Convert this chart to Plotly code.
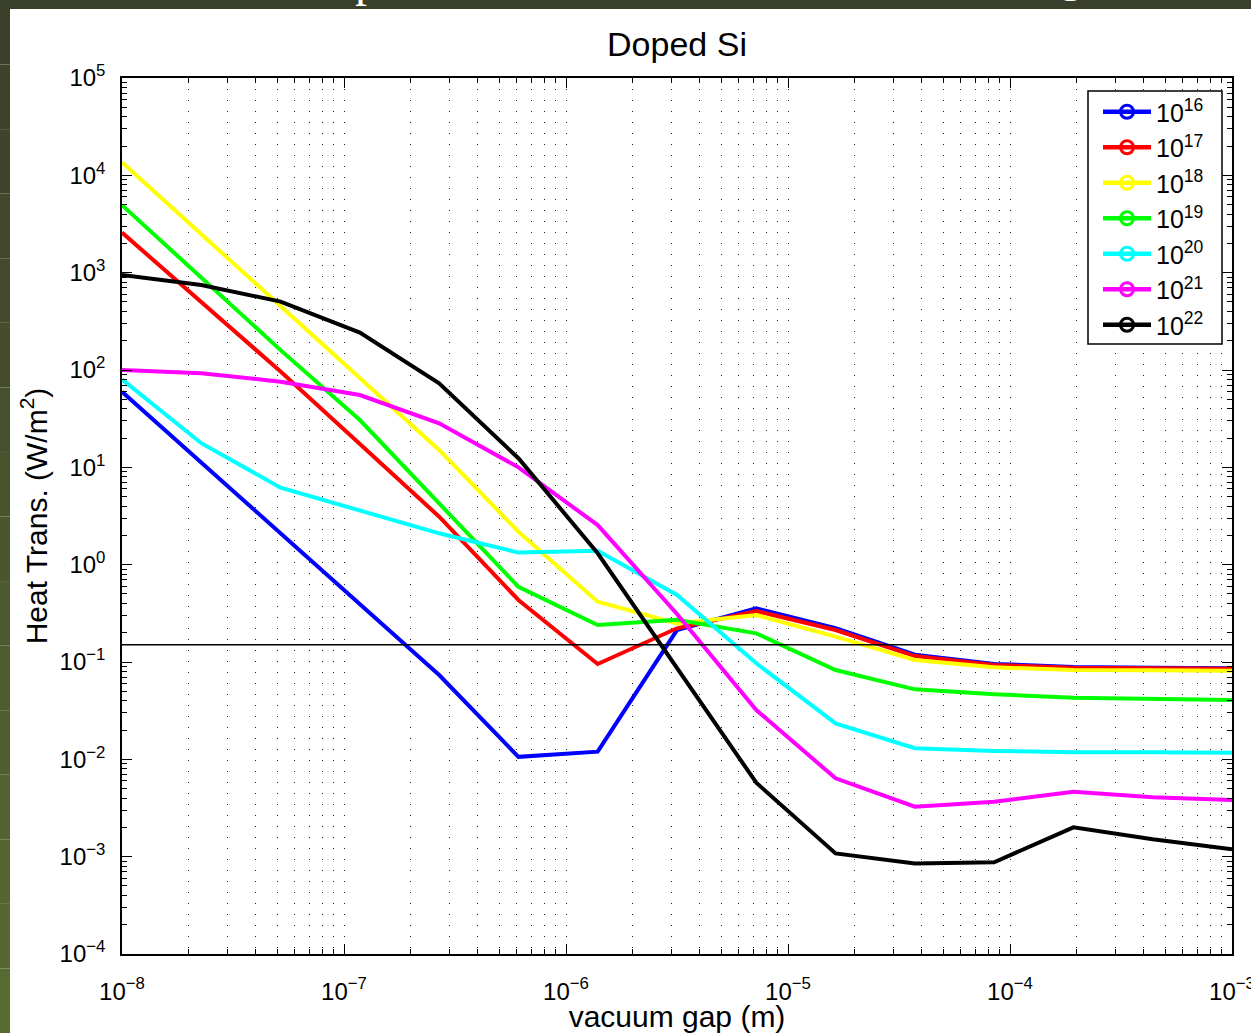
import plotly.graph_objects as go

# Vacuum gap samples (m): 15 log-spaced gaps from 10 nm to 1 mm
gap_m = [1.0e-8, 2.276e-8, 5.18e-8, 1.179e-7, 2.683e-7, 6.105e-7, 1.389e-6,
         3.162e-6, 7.197e-6, 1.638e-5, 3.728e-5, 8.483e-5, 1.931e-4, 4.394e-4, 1.0e-3]

# Heat transfer (W/m^2) per doping concentration (cm^-3)
q_1e16 = [59.8, 11.2, 2.11, 0.394, 0.0735, 0.0106, 0.0120, 0.213, 0.356, 0.222,
          0.119, 0.0955, 0.0891, 0.0871, 0.0861]
q_1e17 = [2580, 497, 96.4, 17.4, 3.11, 0.434, 0.0955, 0.222, 0.334, 0.213,
          0.115, 0.0931, 0.0873, 0.0861, 0.0853]
q_1e18 = [13600, 2490, 455, 83.2, 15.1, 2.18, 0.416, 0.249, 0.304, 0.182,
          0.105, 0.0881, 0.0828, 0.0822, 0.0815]
q_1e19 = [4940, 889, 160, 30.6, 4.27, 0.593, 0.240, 0.272, 0.197, 0.0828,
          0.0524, 0.0466, 0.0430, 0.0414, 0.0406]
q_1e20 = [80.2, 17.7, 6.18, 3.64, 2.10, 1.33, 1.39, 0.488, 0.0970, 0.0234,
          0.0130, 0.0122, 0.0118, 0.0118, 0.0117]
q_1e21 = [100, 92.5, 75.9, 55.3, 28.3, 10.0, 2.55, 0.311, 0.0321, 0.00638,
          0.00326, 0.00367, 0.00465, 0.00407, 0.00382]
q_1e22 = [946, 746, 504, 242, 72.9, 12.4, 1.31, 0.0871, 0.00575, 0.00108,
          0.000853, 0.000875, 0.00200, 0.00151, 0.00119]

series_values = [q_1e16, q_1e17, q_1e18, q_1e19, q_1e20, q_1e21, q_1e22]
series_names = ["10<sup>16</sup>", "10<sup>17</sup>", "10<sup>18</sup>", "10<sup>19</sup>",
                "10<sup>20</sup>", "10<sup>21</sup>", "10<sup>22</sup>"]
series_colors = ["#0000ff", "#ff0000", "#ffff00", "#00ff00", "#00ffff", "#ff00ff", "#000000"]

# Reference level drawn across the whole gap range
reference_level = 0.15

# Decade tick labels
x_exponents = [-8, -7, -6, -5, -4, -3]
y_exponents = [-4, -3, -2, -1, 0, 1, 2, 3, 4, 5]

FONT = "Liberation Sans, Arial, sans-serif"
W, H = 1251, 1033
ML, MR, MT, MB = 122, 19, 78, 79
PW, PH = W - ML - MR, H - MT - MB


def px_x(px):
    return (px - ML) / PW


def px_y(py):
    return (H - MB - py) / PH


def exp_label(e):
    return "10<sup>" + str(e).replace("-", "\u2212") + "</sup>"


x_minor = [d * 10.0 ** e for e in x_exponents[:-1] for d in range(2, 10)]
y_minor = [d * 10.0 ** e for e in y_exponents[:-1] for d in range(2, 10)]

fig = go.Figure()

# Curves (no markers on the plot itself)
for vals, name, col in zip(series_values, series_names, series_colors):
    fig.add_trace(go.Scatter(x=gap_m, y=vals, mode="lines", name=name,
                             line=dict(color=col, width=4), showlegend=False))

# Legend entries with line + open circle
for name, col in zip(series_names, series_colors):
    fig.add_trace(go.Scatter(x=[None], y=[None], mode="lines+markers", name=name,
                             line=dict(color=col, width=4.5),
                             marker=dict(symbol="circle-open", size=13, color=col,
                                         line=dict(width=3, color=col))))

fig.add_shape(type="line", xref="paper", yref="y", x0=0, x1=1,
              y0=reference_level, y1=reference_level,
              line=dict(color="black", width=1.5), layer="above")

# Legend frame (white box with black border, sits over the grid)
fig.add_shape(type="rect", xref="paper", yref="paper",
              x0=px_x(1088), x1=px_x(1222), y0=px_y(344), y1=px_y(91),
              fillcolor="white", line=dict(color="black", width=1.5), layer="above")

# Slide background bands along the top and left edges
fig.add_shape(type="rect", xref="paper", yref="paper",
              x0=px_x(0), x1=px_x(W), y0=px_y(9), y1=px_y(0),
              fillcolor="#3a3f2b", line=dict(width=0), layer="below")
band_cols = ["#3b402a", "#3d432b", "#3f452c", "#41482c", "#434a2d", "#454d2d",
             "#47502e", "#49532e", "#4b562f", "#4d592f", "#4f5c2f", "#515f30",
             "#536230", "#556530", "#566830", "#576a30"]
nb = len(band_cols)
for i, c in enumerate(band_cols):
    fig.add_shape(type="rect", xref="paper", yref="paper",
                  x0=px_x(0), x1=px_x(10),
                  y0=px_y(H * (i + 1) / nb), y1=px_y(H * i / nb),
                  fillcolor=c, line=dict(width=0), layer="below")

# Glyph fragments of the slide heading above the figure
fig.add_annotation(text="p", xref="paper", yref="paper", x=px_x(367), y=px_y(-21),
                   showarrow=False, font=dict(family="Liberation Serif", size=48, color="white"),
                   xanchor="center", yanchor="middle")
fig.add_annotation(text="g", xref="paper", yref="paper", x=px_x(1071), y=px_y(-25),
                   showarrow=False, font=dict(family="Liberation Serif", size=48, color="white"),
                   xanchor="center", yanchor="middle")

grid_dash = "1px,10px"
fig.update_xaxes(
    type="log", range=[-8, -3],
    tickmode="array", tickvals=[10.0 ** e for e in x_exponents],
    ticktext=[exp_label(e) for e in x_exponents],
    ticks="inside", ticklen=10, tickwidth=1, tickcolor="black",
    showline=True, linecolor="black", linewidth=1.5, mirror="ticks",
    showgrid=True, gridcolor="#222222", gridwidth=1, griddash=grid_dash,
    minor=dict(tickmode="array", tickvals=x_minor, ticks="inside", ticklen=5,
               tickcolor="black", tickwidth=1, showgrid=True, gridcolor="#222222",
               gridwidth=1, griddash=grid_dash),
    tickfont=dict(family=FONT, size=24, color="black"),
    ticklabelstandoff=15, ticklabeloverflow="allow",
    title=dict(text="vacuum gap (m)", font=dict(family=FONT, size=30, color="black"),
               standoff=0),
    zeroline=False,
)
fig.update_yaxes(
    type="log", range=[-4, 5],
    tickmode="array", tickvals=[10.0 ** e for e in y_exponents],
    ticktext=[exp_label(e) for e in y_exponents],
    ticks="inside", ticklen=10, tickwidth=1, tickcolor="black",
    showline=True, linecolor="black", linewidth=1.5, mirror="ticks",
    showgrid=False,
    minor=dict(tickmode="array", tickvals=y_minor, ticks="inside", ticklen=5,
               tickcolor="black", tickwidth=1, showgrid=False),
    tickfont=dict(family=FONT, size=24, color="black"),
    ticklabelstandoff=10, ticklabeloverflow="allow",
    title=dict(text="Heat Trans. (W/m<sup>2</sup>)", font=dict(family=FONT, size=30, color="black"),
               standoff=3),
    zeroline=False,
)

fig.update_layout(
    width=W, height=H,
    margin=dict(l=ML, r=MR, t=MT, b=MB, autoexpand=False),
    paper_bgcolor="white", plot_bgcolor="white",
    title=dict(text="Doped Si", x=677 / W, xanchor="center",
               y=1 - 44 / H, yanchor="middle",
               font=dict(family=FONT, size=34, color="black")),
    legend=dict(x=px_x(1098), y=px_y(89), xanchor="left", yanchor="top",
                bgcolor="rgba(0,0,0,0)", borderwidth=0,
                font=dict(family=FONT, size=25, color="black"),
                itemwidth=48, tracegroupgap=0),
    showlegend=True,
)

fig.write_html("out.html")
